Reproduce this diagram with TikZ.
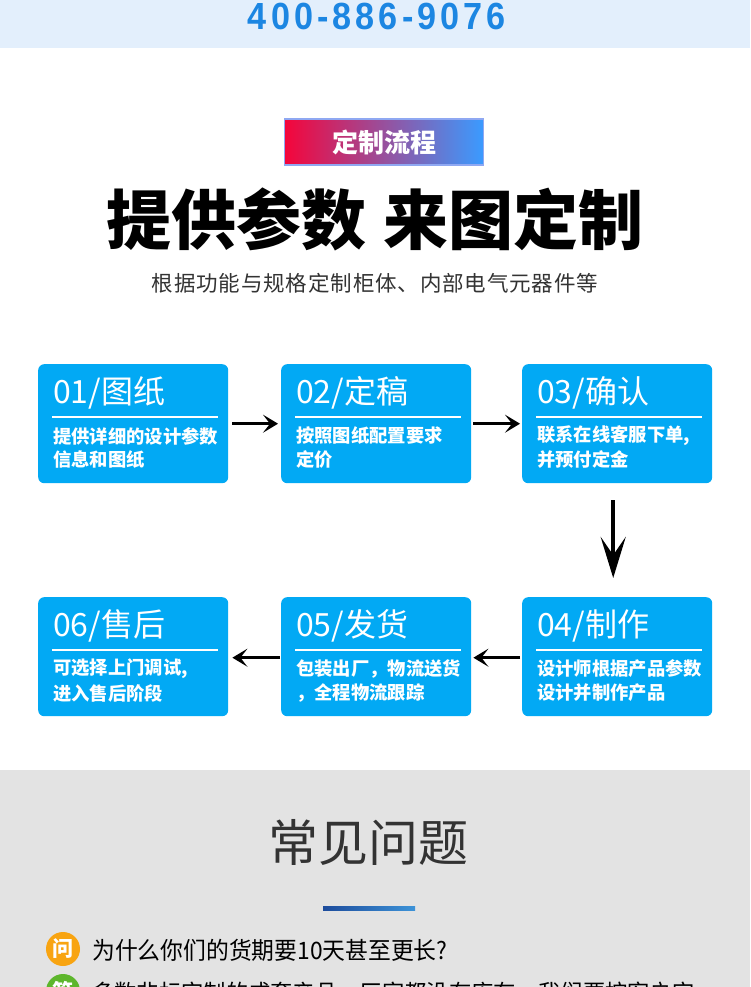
\documentclass[tikz,border=0pt]{standalone}
\usepackage{fontspec}
\setmainfont{Liberation Sans}
\newfontfamily\cjk{Noto Sans CJK SC}
\newfontfamily\cjksub[LetterSpace=4]{Noto Sans CJK SC}
\newfontfamily\phonefont[LetterSpace=12]{Liberation Sans}
\usetikzlibrary{arrows.meta}
\definecolor{topband}{HTML}{E3EFFC}
\definecolor{phoneblue}{HTML}{1C86E2}
\definecolor{boxblue}{HTML}{02A9F4}
\definecolor{labred}{HTML}{F5053B}
\definecolor{labblue}{HTML}{3A9BFF}
\definecolor{labedge}{HTML}{8FA8F2}
\definecolor{faqgray}{HTML}{E3E3E3}
\definecolor{darktext}{HTML}{333333}
\definecolor{lineblueA}{HTML}{1D4C9C}
\definecolor{lineblueB}{HTML}{3D93D8}
\definecolor{qorange}{HTML}{F8A411}
\definecolor{agreen}{HTML}{5DB62C}
\begin{document}
\begin{tikzpicture}[x=1pt,y=-1pt,
  stepbox/.style={fill=boxblue, draw=none, rounded corners=6pt, minimum width=190pt, minimum height=119pt, anchor=north west, inner sep=0pt},
  boxtitle/.style={text=white, font=\cjk\fontsize{32}{32}\selectfont, anchor=west, inner sep=0pt},
  boxdesc/.style={text=white, font=\cjk\bfseries\fontsize{18.3}{18.3}\selectfont, anchor=west, inner sep=0pt},
  boxrule/.style={draw=white, line width=2pt},
  harrow/.style={draw=black, line width=3pt, -{Stealth[length=15pt, width=18pt, inset=7pt]}},
  varrow/.style={draw=black, line width=4.5pt, -{Stealth[length=41pt, width=25pt, inset=18pt]}}
]
\useasboundingbox (0,0) rectangle (750,987);
\clip (0,0) rectangle (750,987);
% backgrounds
\fill[white] (0,0) rectangle (750,987);
\fill[topband] (0,0) rectangle (750,48);
\fill[faqgray] (0,770) rectangle (750,987);

% phone
\node[text=phoneblue, font=\phonefont\bfseries\fontsize{36}{36}\selectfont, inner sep=0pt] (phone) at (377,16) {\scalebox{0.95}[1.05]{400-886-9076}};

% gradient label
\node[left color=labred, right color=labblue, draw=labedge, line width=1.2pt, minimum width=199pt, minimum height=46pt, inner sep=0pt, text=white, font=\cjk\bfseries\fontsize{26}{26}\selectfont] (lab) at (384,142) {定制流程};

% main title
\node[text=black, font=\cjk\bfseries\fontsize{65}{65}\selectfont, inner sep=0pt] (title) at (375,219) {提供参数\hspace{18pt}来图定制};

% subtitle
\node[text=darktext, font=\cjksub\fontsize{21.5}{21.5}\selectfont, inner sep=0pt] (sub) at (375,283) {根据功能与规格定制柜体、内部电气元器件等};

% boxes
\node[stepbox] (b1) at (38,364) {};
\node[stepbox] (b2) at (281,364) {};
\node[stepbox] (b3) at (522,364) {};
\node[stepbox] (b6) at (38,597) {};
\node[stepbox] (b5) at (281,597) {};
\node[stepbox] (b4) at (522,597) {};

% box contents
\node[boxtitle] (t1) at ([xshift=15pt,yshift=-29pt]b1.north west) {01/图纸};
\draw[boxrule] ([xshift=14pt,yshift=-53pt]b1.north west) -- ([xshift=-10pt,yshift=-53pt]b1.north east);
\node[boxdesc] (d1a) at ([xshift=15pt,yshift=-72pt]b1.north west) {提供详细的设计参数};
\node[boxdesc] (d1b) at ([xshift=15pt,yshift=-96pt]b1.north west) {信息和图纸};

\node[boxtitle] (t2) at ([xshift=15pt,yshift=-29pt]b2.north west) {02/定稿};
\draw[boxrule] ([xshift=14pt,yshift=-53pt]b2.north west) -- ([xshift=-10pt,yshift=-53pt]b2.north east);
\node[boxdesc] (d2a) at ([xshift=15pt,yshift=-72pt]b2.north west) {按照图纸配置要求};
\node[boxdesc] (d2b) at ([xshift=15pt,yshift=-96pt]b2.north west) {定价};

\node[boxtitle] (t3) at ([xshift=15pt,yshift=-29pt]b3.north west) {03/确认};
\draw[boxrule] ([xshift=14pt,yshift=-53pt]b3.north west) -- ([xshift=-10pt,yshift=-53pt]b3.north east);
\node[boxdesc] (d3a) at ([xshift=15pt,yshift=-72pt]b3.north west) {联系在线客服下单,};
\node[boxdesc] (d3b) at ([xshift=15pt,yshift=-96pt]b3.north west) {并预付定金};

\node[boxtitle] (t4) at ([xshift=15pt,yshift=-29pt]b4.north west) {04/制作};
\draw[boxrule] ([xshift=14pt,yshift=-53pt]b4.north west) -- ([xshift=-10pt,yshift=-53pt]b4.north east);
\node[boxdesc] (d4a) at ([xshift=15pt,yshift=-72pt]b4.north west) {设计师根据产品参数};
\node[boxdesc] (d4b) at ([xshift=15pt,yshift=-96pt]b4.north west) {设计并制作产品};

\node[boxtitle] (t5) at ([xshift=15pt,yshift=-29pt]b5.north west) {05/发货};
\draw[boxrule] ([xshift=14pt,yshift=-53pt]b5.north west) -- ([xshift=-10pt,yshift=-53pt]b5.north east);
\node[boxdesc] (d5a) at ([xshift=15pt,yshift=-72pt]b5.north west) {包装出厂，物流送货};
\node[boxdesc] (d5b) at ([xshift=15pt,yshift=-96pt]b5.north west) {，全程物流跟踪};

\node[boxtitle] (t6) at ([xshift=15pt,yshift=-29pt]b6.north west) {06/售后};
\draw[boxrule] ([xshift=14pt,yshift=-53pt]b6.north west) -- ([xshift=-10pt,yshift=-53pt]b6.north east);
\node[boxdesc] (d6a) at ([xshift=15pt,yshift=-72pt]b6.north west) {可选择上门调试,};
\node[boxdesc] (d6b) at ([xshift=15pt,yshift=-96pt]b6.north west) {进入售后阶段};

% connectors
\draw[harrow, shorten <=4pt, shorten >=3pt] (b1) -- (b2);
\draw[harrow, shorten <=2pt, shorten >=2pt] (b2) -- (b3);
\draw[varrow, shorten <=17pt, shorten >=19pt] ([xshift=-4pt]b3.south) -- ([xshift=-4pt]b4.north);
\draw[harrow, shorten <=2pt, shorten >=2pt] ([yshift=-1pt]b4.west) -- ([yshift=-1pt]b5.east);
\draw[harrow, shorten <=1pt, shorten >=4pt] ([yshift=-1pt]b5.west) -- ([yshift=-1pt]b6.east);

% FAQ
\node[text=darktext, font=\cjk\fontsize{50}{50}\selectfont, inner sep=0pt] (faq) at (368,842) {常见问题};
\shade[left color=lineblueA, right color=lineblueB] (323,906) rectangle (415,910);

\node[circle, fill=qorange, minimum size=34pt, inner sep=0pt, text=white, font=\cjk\bfseries\fontsize{21}{21}\selectfont] (q) at (63,949) {问};
\node[anchor=west, inner sep=0pt, text=black, font=\cjk\fontsize{24}{24}\selectfont] (qt) at (92,950) {\scalebox{0.95}[1]{为什么你们的货期要10天甚至更长?}};

\node[circle, fill=agreen, minimum size=34pt, inner sep=0pt, text=white, font=\cjk\bfseries\fontsize{21}{21}\selectfont] (a) at (63,991) {答};
\node[anchor=west, inner sep=0pt, text=black, font=\cjk\fontsize{23}{23}\selectfont] (at) at (92,993) {\scalebox{0.97}[1]{多数非标定制的成套产品，厂家都没有库存，我们要按客户定}};
\end{tikzpicture}
\end{document}
